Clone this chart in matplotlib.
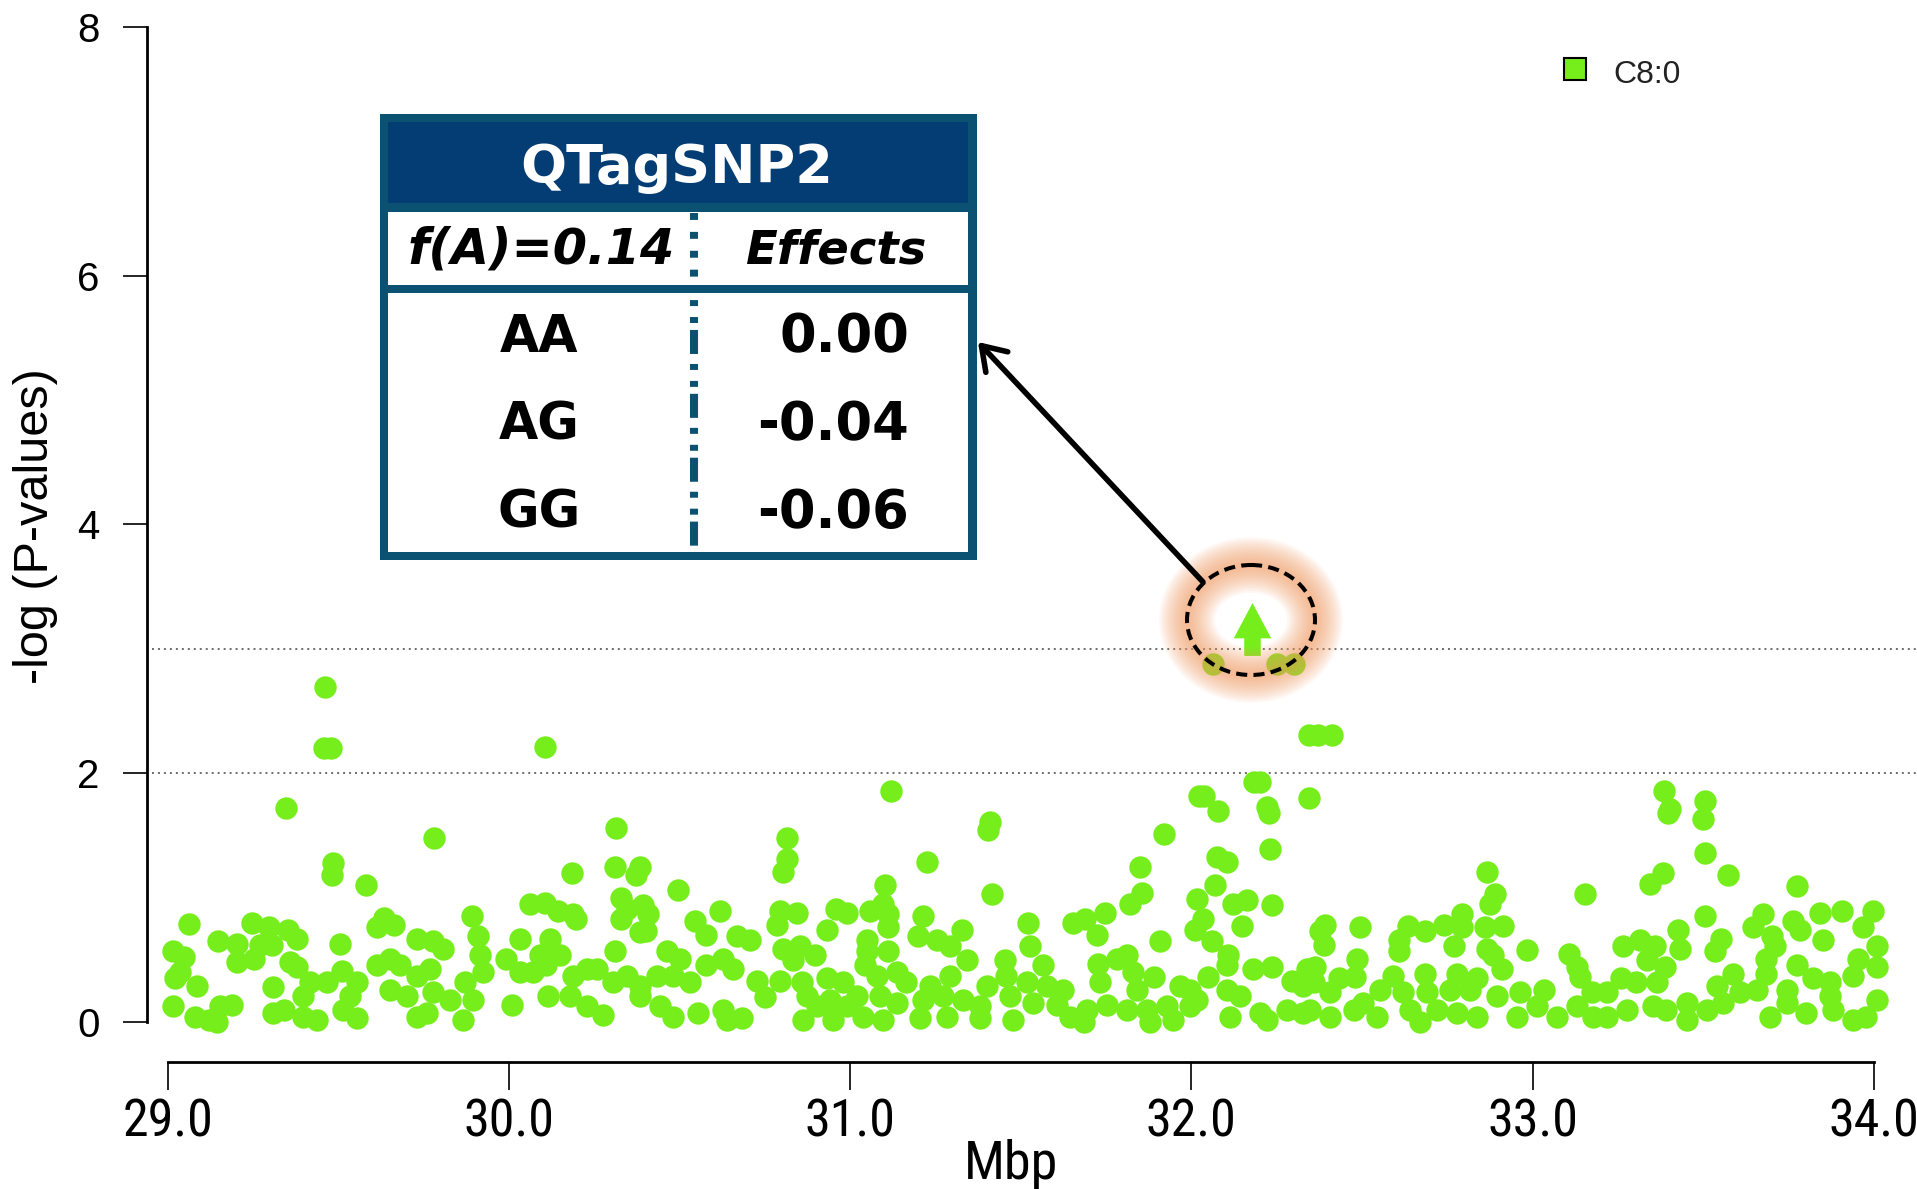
import matplotlib
matplotlib.use('Agg')
import matplotlib.pyplot as plt
from matplotlib.patches import Ellipse, Rectangle
from matplotlib.path import Path
from matplotlib.lines import Line2D

plt.rcParams['font.family'] = ['Liberation Sans', 'DejaVu Sans']
plt.rcParams['lines.scale_dashes'] = False

# SNP position (Mbp) and -log(P) values, left to right
snp_mbp = [
    # 29.0 - 29.8
    29.486, 29.481, 29.582, 29.064, 29.247, 29.296, 29.354, 29.379, 29.149, 29.203,
    29.271, 29.305, 29.633, 29.662, 29.613, 29.506, 29.017, 29.047, 29.203, 29.252,
    29.359, 29.379, 29.511, 29.613, 29.652, 29.681, 29.730, 29.779, 29.022, 29.037,
    29.086, 29.310, 29.418, 29.467, 29.398, 29.554, 29.535, 29.652, 29.701, 29.730,
    29.769, 29.017, 29.081, 29.120, 29.154, 29.188, 29.144, 29.310, 29.340, 29.398,
    29.437, 29.515, 29.554, 29.730, 29.759, 29.779,
    # 29.8 - 30.65
    30.184, 30.311, 30.384, 30.374, 30.496, 30.062, 30.106, 30.145, 30.189, 30.198,
    29.891, 30.330, 30.345, 30.394, 30.408, 30.330, 30.545, 30.618, 30.579, 29.808,
    29.910, 30.032, 30.120, 30.384, 30.403, 29.915, 29.993, 30.091, 30.150, 30.311,
    30.462, 30.501, 30.628, 29.871, 29.925, 30.032, 30.071, 30.110, 30.189, 30.228,
    30.257, 30.306, 30.345, 30.384, 30.433, 30.481, 30.530, 30.579, 29.827, 29.896,
    30.008, 30.115, 30.179, 30.228, 30.276, 29.866, 30.384, 30.443, 30.481, 30.555,
    30.628, 30.638,
    # 30.65 - 31.5
    30.814, 30.804, 31.224, 31.102, 31.415, 30.794, 30.843, 30.785, 30.960, 30.990,
    31.058, 31.097, 31.112, 31.112, 31.214, 30.931, 30.668, 30.707, 31.200, 31.254,
    31.292, 31.327, 30.804, 30.853, 30.897, 30.834, 31.048, 31.048, 31.112, 31.044,
    31.341, 31.454, 30.658, 30.726, 30.794, 30.858, 30.931, 30.980, 31.078, 31.136,
    31.165, 31.234, 31.292, 31.400, 31.458, 30.751, 30.873, 30.941, 31.019, 31.087,
    31.136, 31.214, 31.273, 31.332, 31.380, 31.468, 30.682, 30.863, 30.951, 31.039,
    31.097, 31.205, 31.283, 31.380, 31.478, 30.902, 30.990,
    # 31.5 - 32.35
    31.850, 31.854, 31.820, 31.747, 32.074, 32.103, 32.230, 32.069, 32.016, 32.123,
    32.162, 32.235, 32.147, 32.035, 32.011, 32.059, 31.522, 31.654, 31.688, 31.723,
    31.908, 31.527, 31.566, 31.727, 31.781, 31.810, 31.830, 31.889, 32.050, 32.108,
    32.103, 32.181, 32.235, 32.294, 32.338, 31.518, 31.576, 31.625, 31.732, 31.840,
    31.967, 31.996, 32.103, 32.142, 32.328, 31.537, 31.605, 31.693, 31.752, 31.810,
    31.869, 31.928, 31.996, 32.016, 31.645, 31.684, 31.879, 31.947, 32.113, 32.201,
    32.221, 32.279, 32.328,
    # 32.35 - 33.2
    32.866, 32.890, 32.875, 33.154, 32.392, 32.377, 32.387, 32.494, 32.636, 32.685,
    32.739, 32.792, 32.792, 32.861, 32.914, 32.607, 32.607, 32.768, 32.866, 32.885,
    32.983, 33.105, 33.129, 33.139, 32.485, 32.363, 32.480, 32.431, 32.592, 32.685,
    32.778, 32.836, 32.909, 32.358, 32.407, 32.553, 32.621, 32.690, 32.758, 32.817,
    32.895, 32.963, 33.032, 33.173, 32.407, 32.475, 32.543, 32.641, 32.670, 32.719,
    32.778, 32.836, 32.953, 33.012, 33.071, 33.129, 33.178, 32.348, 32.504,
    # 33.2 - 34.0
    33.505, 33.383, 33.343, 33.573, 33.773, 33.505, 33.427, 33.431, 33.676, 33.646,
    33.763, 33.783, 33.842, 33.905, 33.998, 33.969, 33.851, 33.553, 33.534, 33.700,
    33.710, 34.008, 33.265, 33.314, 33.358, 33.387, 33.334, 33.685, 33.773, 33.954,
    34.008, 33.939, 33.260, 33.304, 33.363, 33.539, 33.588, 33.685, 33.607, 33.656,
    33.744, 33.822, 33.871, 33.871, 33.217, 33.275, 33.353, 33.392, 33.451, 33.451,
    33.510, 33.558, 33.695, 33.744, 33.802, 33.881, 33.939, 33.978, 34.008, 33.217,
    # upper points
    29.462, 29.458, 29.480, 29.347, 29.781, 30.107, 30.314, 30.816, 31.120, 31.410,
    31.403, 31.919, 32.023, 32.037, 32.077, 32.184, 32.202, 32.220, 32.227, 32.345,
    32.370, 32.413, 32.345, 33.384, 33.402, 33.395, 33.506, 33.499,
    32.063, 32.250, 32.300,
]
snp_logp = [
    1.28, 1.18, 1.10, 0.79, 0.80, 0.76, 0.74, 0.67, 0.65, 0.63,
    0.62, 0.62, 0.84, 0.78, 0.76, 0.63, 0.57, 0.52, 0.48, 0.51,
    0.48, 0.44, 0.41, 0.46, 0.51, 0.46, 0.67, 0.65, 0.35, 0.40,
    0.29, 0.28, 0.32, 0.32, 0.21, 0.32, 0.21, 0.26, 0.21, 0.37,
    0.43, 0.13, 0.04, 0.02, 0.13, 0.14, 0.00, 0.07, 0.10, 0.04,
    0.02, 0.10, 0.03, 0.04, 0.07, 0.24,
    1.20, 1.25, 1.25, 1.18, 1.06, 0.95, 0.96, 0.89, 0.87, 0.83,
    0.85, 1.00, 0.91, 0.94, 0.87, 0.83, 0.81, 0.89, 0.70, 0.59,
    0.69, 0.67, 0.67, 0.72, 0.73, 0.54, 0.51, 0.54, 0.54, 0.57,
    0.57, 0.51, 0.51, 0.32, 0.40, 0.40, 0.40, 0.46, 0.37, 0.43,
    0.43, 0.32, 0.37, 0.29, 0.37, 0.37, 0.32, 0.46, 0.18, 0.18,
    0.14, 0.21, 0.21, 0.13, 0.06, 0.02, 0.21, 0.13, 0.04, 0.07,
    0.10, 0.02,
    1.31, 1.21, 1.29, 1.10, 1.03, 0.89, 0.88, 0.78, 0.91, 0.88,
    0.89, 0.95, 0.87, 0.76, 0.85, 0.74, 0.69, 0.66, 0.69, 0.66,
    0.61, 0.74, 0.59, 0.61, 0.54, 0.50, 0.66, 0.57, 0.57, 0.46,
    0.50, 0.50, 0.43, 0.33, 0.33, 0.32, 0.35, 0.32, 0.37, 0.40,
    0.32, 0.29, 0.37, 0.29, 0.37, 0.20, 0.21, 0.18, 0.21, 0.21,
    0.15, 0.18, 0.21, 0.18, 0.13, 0.21, 0.03, 0.02, 0.02, 0.04,
    0.02, 0.03, 0.04, 0.03, 0.02, 0.13, 0.13,
    1.25, 1.04, 0.95, 0.88, 1.33, 1.29, 1.39, 1.10, 0.99, 0.95,
    0.98, 0.94, 0.77, 0.83, 0.74, 0.65, 0.80, 0.80, 0.83, 0.70,
    0.65, 0.61, 0.46, 0.47, 0.51, 0.54, 0.40, 0.36, 0.36, 0.54,
    0.46, 0.43, 0.44, 0.33, 0.43, 0.32, 0.29, 0.26, 0.32, 0.26,
    0.29, 0.26, 0.26, 0.21, 0.29, 0.15, 0.14, 0.10, 0.14, 0.10,
    0.10, 0.13, 0.13, 0.18, 0.04, 0.00, 0.00, 0.02, 0.04, 0.07,
    0.02, 0.10, 0.07,
    1.21, 1.03, 0.95, 1.03, 0.78, 0.73, 0.62, 0.76, 0.77, 0.73,
    0.78, 0.87, 0.76, 0.76, 0.77, 0.66, 0.57, 0.61, 0.59, 0.54,
    0.58, 0.55, 0.44, 0.36, 0.51, 0.44, 0.36, 0.35, 0.37, 0.39,
    0.39, 0.35, 0.43, 0.32, 0.24, 0.26, 0.24, 0.24, 0.26, 0.26,
    0.21, 0.24, 0.26, 0.24, 0.04, 0.10, 0.04, 0.10, 0.00, 0.10,
    0.07, 0.04, 0.04, 0.13, 0.04, 0.13, 0.04, 0.10, 0.15,
    1.36, 1.20, 1.11, 1.18, 1.09, 0.85, 0.74, 0.59, 0.87, 0.76,
    0.81, 0.74, 0.88, 0.89, 0.89, 0.76, 0.66, 0.67, 0.57, 0.69,
    0.61, 0.61, 0.61, 0.66, 0.61, 0.44, 0.50, 0.51, 0.46, 0.51,
    0.44, 0.37, 0.35, 0.32, 0.32, 0.29, 0.39, 0.39, 0.24, 0.26,
    0.26, 0.35, 0.32, 0.21, 0.24, 0.10, 0.13, 0.10, 0.15, 0.02,
    0.10, 0.15, 0.04, 0.15, 0.07, 0.10, 0.02, 0.04, 0.18, 0.04,
    2.69, 2.20, 2.20, 1.72, 1.48, 2.21, 1.56, 1.48, 1.86, 1.61,
    1.54, 1.51, 1.82, 1.82, 1.70, 1.93, 1.93, 1.73, 1.68, 2.31,
    2.31, 2.31, 1.80, 1.86, 1.71, 1.68, 1.78, 1.63,
    2.88, 2.88, 2.88,
]

# tag SNP (drawn as an arrow marker)
tag_mbp = [32.178]
tag_logp = [3.16]

thresholds = [2, 3]
x_ticks = [29, 30, 31, 32, 33, 34]
y_ticks = [0, 2, 4, 6, 8]

table_title = 'QTagSNP2'
allele_freq = 'f(A)=0.14'
effects_head = 'Effects'
genotypes = ['AA', 'AG', 'GG']
effects = ['0.00', '-0.04', '-0.06']
legend_label = 'C8:0'

green = '#76EE1C'
teal = '#0B5172'
navy = '#033D74'
narrow = ['Liberation Sans Narrow', 'Roboto Condensed', 'Open Sans Condensed',
          'Liberation Sans']

W, H = 1917, 1189
fig = plt.figure(figsize=(W / 100, H / 100), dpi=100)
ax = fig.add_axes([0, 0, 1, 1])
ax.set_xlim(28.509, 34.126)
ax.set_ylim(-1.342, 8.215)
ax.patch.set_visible(False)

ax.hlines(thresholds, 28.954, 34.126, colors='#444444', linewidth=1.1,
          linestyles=[(0, (1.4, 2.9))])
ax.scatter(snp_mbp, snp_logp, s=260, c=green, linewidths=0, zorder=3)

arrow_marker = Path([(0, 24), (17, -8), (7.5, -8), (7.5, -24), (-7.5, -24),
                     (-7.5, -8), (-17, -8), (0, 24)], closed=True)
ax.scatter(tag_mbp, tag_logp, s=1450, marker=arrow_marker, c=green,
           linewidths=0, zorder=4)

for side in ['top', 'right']:
    ax.spines[side].set_visible(False)
ax.spines['left'].set_position(('data', 28.939))
ax.spines['left'].set_bounds(0, 8)
ax.spines['bottom'].set_position(('data', -0.32))
ax.spines['bottom'].set_bounds(29, 34)
for side in ['left', 'bottom']:
    ax.spines[side].set_linewidth(2.0)

ax.set_xticks(x_ticks, [f'{v:.1f}' for v in x_ticks])
ax.set_yticks(y_ticks, [str(v) for v in y_ticks])
ax.tick_params(axis='x', length=20, width=1.2, pad=6, labelsize=37.5)
ax.tick_params(axis='y', length=17, width=1.2, pad=17, labelsize=29)
for lab in ax.get_xticklabels():
    lab.set_family(narrow)

# overlay in pixel coordinates (y downwards) for labels, table, callout
ov = fig.add_axes([0, 0, 1, 1], zorder=5)
ov.set_xlim(0, W)
ov.set_ylim(H, 0)
ov.axis('off')
ov.patch.set_visible(False)

ov.text(36, 526, '-log (P-values)', rotation=90, ha='center', va='center', fontsize=35)
ov.text(1011, 1179, 'Mbp', ha='center', va='baseline', fontsize=39, family=narrow)

# legend
ov.add_patch(Rectangle((1564, 58), 22, 22, facecolor=green, edgecolor='black', lw=1.5))
ov.text(1613, 83, legend_label, va='baseline', fontsize=23, color='#222222')

# glow + dashed circle around the tag SNP
for lw in range(40, 2, -3):
    ov.add_patch(Ellipse((1251, 620), 128, 110, fill=False, edgecolor='#F59A5C',
                         lw=lw, alpha=0.07))
ov.add_patch(Ellipse((1251, 620), 128, 110, fill=False, edgecolor='black', lw=2.9,
                     linestyle=(0, (8, 4.5))))

ov.annotate('', xy=(978, 342), xytext=(1203, 582),
            arrowprops=dict(arrowstyle='->,head_length=0.45,head_width=0.3', lw=4.0,
                            color='black', mutation_scale=36, shrinkA=0, shrinkB=0))

# effects table
ov.add_patch(Rectangle((380, 114), 597, 446, facecolor=teal, edgecolor='none'))
ov.add_patch(Rectangle((388, 122), 580, 81, facecolor=navy, edgecolor='none'))
ov.add_patch(Rectangle((388, 212), 580, 73, facecolor='white', edgecolor='none'))
ov.add_patch(Rectangle((388, 293), 580, 259, facecolor='white', edgecolor='none'))
ov.add_line(Line2D([694, 694], [213, 285], color=teal, lw=5.8,
                   linestyle=(0, (5, 8.6)), dash_capstyle='butt'))
ov.add_line(Line2D([694, 694], [293, 552], color=teal, lw=5.8,
                   linestyle=(19.4, (17.3, 7.2, 4.3, 7.9, 4.3, 5.0)), dash_capstyle='butt'))

bold = dict(family='DejaVu Sans', weight='bold')
ov.text(677, 183, table_title, ha='center', va='baseline', fontsize=39,
        color='white', **bold)
ov.text(541, 263, allele_freq, ha='center', va='baseline', fontsize=35.5,
        style='italic', **bold)
ov.text(836, 263, effects_head, ha='center', va='baseline', fontsize=33.5,
        style='italic', **bold)
for g, e, yb in zip(genotypes, effects, [352, 440, 528]):
    ov.text(539, yb, g, ha='center', va='baseline', fontsize=36.5, **bold)
    ov.text(909, yb, e, ha='right', va='baseline', fontsize=38, **bold)

fig.savefig('out.png', dpi=100)
